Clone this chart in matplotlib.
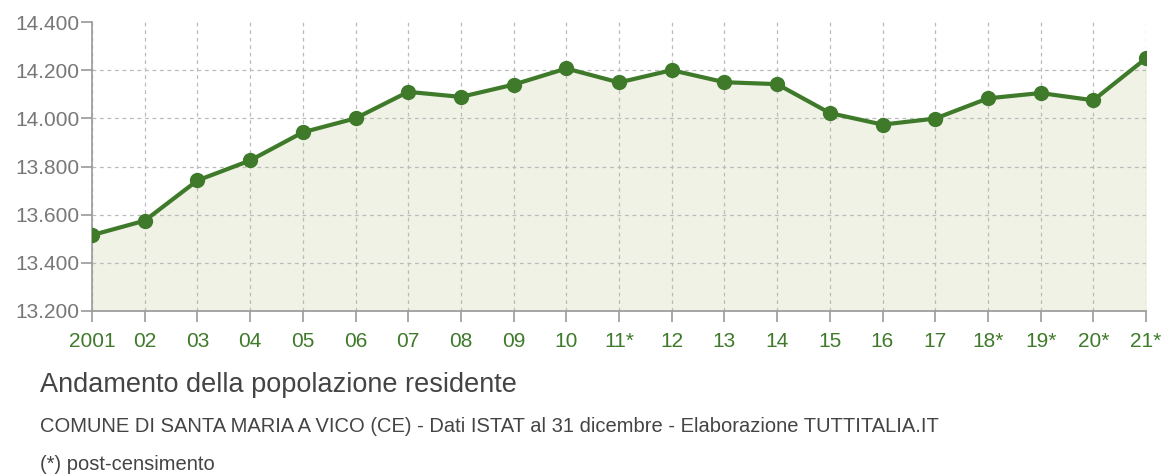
import matplotlib
matplotlib.use("Agg")
import matplotlib.pyplot as plt
from matplotlib.ticker import FuncFormatter

plt.rcParams['font.family'] = ['Liberation Sans', 'DejaVu Sans']

years = ["2001", "02", "03", "04", "05", "06", "07", "08", "09", "10", "11*",
         "12", "13", "14", "15", "16", "17", "18*", "19*", "20*", "21*"]
population = [13515, 13575, 13742, 13825, 13942, 14000, 14110, 14089, 14140,
              14207, 14149, 14200, 14150, 14142, 14022, 13974, 13999, 14083,
              14105, 14075, 14249]
y_ticks = [13200, 13400, 13600, 13800, 14000, 14200, 14400]

line_col = "#3f7a2b"
fill_col = "#f0f2e5"
grid_col = "#bbbbbb"
text_col = "#444444"

fig = plt.figure(figsize=(11.64, 4.76), dpi=100)
ax = fig.add_axes([92 / 1164, 1 - 311 / 476, (1146 - 92) / 1164, 289 / 476])

x = list(range(len(years)))
ax.fill_between(x, population, 13200, color=fill_col, zorder=1)
ax.plot(x, population, color=line_col, lw=3, marker="o", ms=10, zorder=3)

ax.set_xlim(0, len(years) - 1)
ax.set_ylim(13200, 14400)
ax.set_xticks(x)
ax.set_xticklabels(years)
ax.set_yticks(y_ticks)
ax.yaxis.set_major_formatter(FuncFormatter(lambda v, p: f"{int(v):,}".replace(",", ".")))

ax.grid(True, color=grid_col, ls=(0, (3, 3)), lw=0.9, zorder=0)
ax.yaxis.get_gridlines()[-1].set_visible(False)
for side in ["top", "right"]:
    ax.spines[side].set_visible(False)
for side in ["left", "bottom"]:
    ax.spines[side].set_color("#999999")
    ax.spines[side].set_linewidth(1.2)
    ax.spines[side].set_zorder(2)

ax.tick_params(axis="y", colors="#999999", labelcolor="#777777", labelsize=15,
               length=8, width=1.2, pad=1)
ax.tick_params(axis="x", colors="#999999", labelcolor=line_col, labelsize=15,
               length=8, width=1.2, pad=7)

fig.text(40 / 1164, 1 - 392 / 476, "Andamento della popolazione residente",
         fontsize=19.5, color=text_col, va="baseline")
fig.text(40 / 1164, 1 - 432 / 476,
         "COMUNE DI SANTA MARIA A VICO (CE) - Dati ISTAT al 31 dicembre - Elaborazione TUTTITALIA.IT",
         fontsize=14.5, color=text_col, va="baseline")
fig.text(40 / 1164, 1 - 470 / 476, "(*) post-censimento",
         fontsize=14.5, color=text_col, va="baseline")

fig.savefig("out.png", dpi=100)
